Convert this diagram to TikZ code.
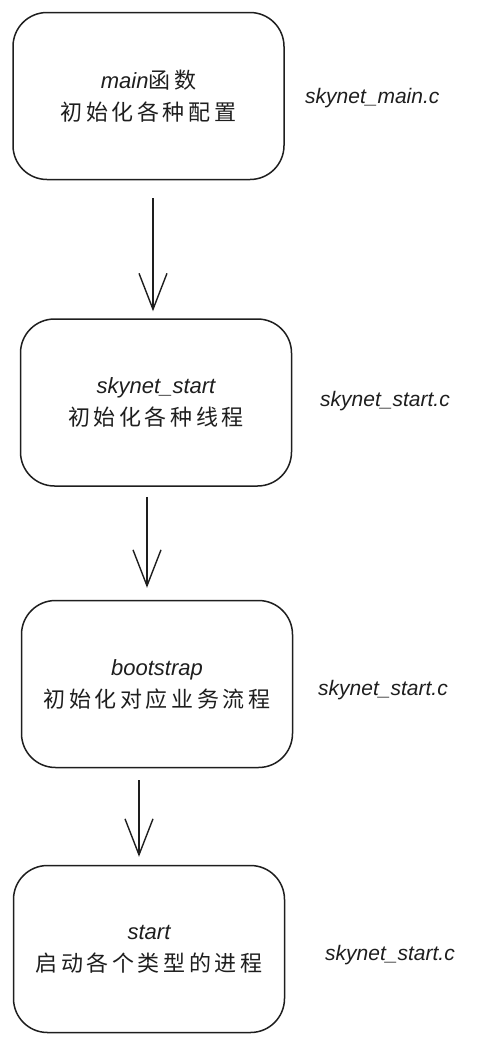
\documentclass[tikz,border=0pt]{standalone}
\usepackage{fontspec}
\usepackage{tikz}
\usetikzlibrary{arrows.meta, positioning}
\newfontfamily\cjk[LetterSpace=16]{Noto Sans CJK SC}
\newfontfamily\hand{Liberation Sans}
\definecolor{ink1}{RGB}{30, 30, 30}

\tikzset{
  stagebox/.style={draw=ink1, line width=1.5pt, rounded corners=34pt, minimum width=271pt, minimum height=167pt,
    align=center, text=ink1, inner sep=0pt, font=\fontsize{22}{32}\selectfont\cjk},
  filelabel/.style={anchor=west, text=ink1, inner sep=0pt, font=\fontsize{21}{25}\selectfont\hand\itshape},
  flowarrow/.style={draw=ink1, line width=1.4pt, -{Straight Barb[length=36pt, width=28pt]}}
}

\begin{document}
\begin{tikzpicture}[x=1pt, y=-1pt]
  \useasboundingbox (0,0) rectangle (480,1045);

  % stages
  \node[stagebox] (main) at (148.5,96) {{\hand\itshape main}函数\\初始化各种配置};
  \node[stagebox] (sstart) at (156,402.5) {{\hand\itshape skynet\_start}\\初始化各种线程};
  \node[stagebox] (boot) at (157,684) {{\hand\itshape bootstrap}\\初始化对应业务流程};
  \node[stagebox] (start) at (149,949) {{\hand\itshape start}\\启动各个类型的进程};

  % source files
  \node[filelabel] (lmain) at (305,98) {skynet\_main.c};
  \node[filelabel] (lsstart) at (320,401) {skynet\_start.c};
  \node[filelabel] (lboot) at (318,690) {skynet\_start.c};
  \node[filelabel] (lstart) at (325,955) {skynet\_start.c};

  % flow
  \coordinate (a1) at (153,0);
  \coordinate (a2) at (147,0);
  \coordinate (a3) at (139,0);
  \draw[flowarrow, shorten <=18pt, shorten >=7pt] (main.south -| a1) -- (sstart.north -| a1);
  \draw[flowarrow, shorten <=10pt, shorten >=12pt] (sstart.south -| a2) -- (boot.north -| a2);
  \draw[flowarrow, shorten <=12pt, shorten >=8pt] (boot.south -| a3) -- (start.north -| a3);
\end{tikzpicture}
\end{document}
